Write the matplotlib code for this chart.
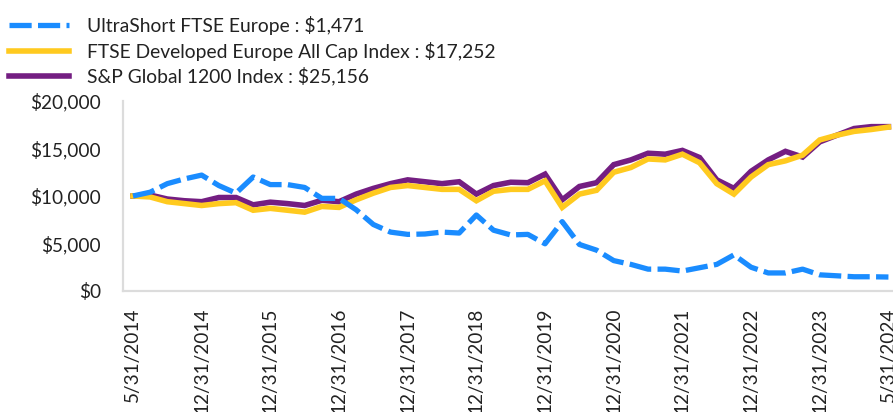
import matplotlib
matplotlib.use("Agg")
import matplotlib.pyplot as plt
from matplotlib.ticker import FuncFormatter
import numpy as np

tick_labels = ["5/31/2014", "12/31/2014", "12/31/2015", "12/31/2016", "12/31/2017",
               "12/31/2018", "12/31/2019", "12/31/2020", "12/31/2021", "12/31/2022",
               "12/31/2023", "5/31/2024"]

ultrashort = [10000, 10400, 11300, 11800, 12200, 11100, 10300, 12000, 11200, 11200,
              10900, 9750, 9750, 8550, 7000, 6200, 5960, 6000, 6200, 6100,
              8000, 6400, 5900, 5960, 4970, 7300, 4900, 4300, 3200, 2800,
              2300, 2300, 2100, 2450, 2800, 3800, 2500, 1900, 1900, 2300,
              1700, 1600, 1500, 1500, 1471]

ftse = [10000, 9900, 9400, 9200, 9000, 9200, 9300, 8500, 8700, 8500,
        8300, 8900, 8800, 9600, 10300, 10900, 11100, 10900, 10700, 10700,
        9500, 10500, 10700, 10700, 11600, 8800, 10200, 10600, 12500, 13000,
        13900, 13800, 14400, 13500, 11300, 10200, 12000, 13300, 13700, 14300,
        15900, 16400, 16800, 17000, 17252]

sp1200 = [10000, 10100, 9680, 9500, 9400, 9840, 9840, 9070, 9350, 9200,
          9000, 9550, 9400, 10200, 10800, 11300, 11700, 11500, 11300, 11500,
          10200, 11100, 11450, 11400, 12300, 9600, 11000, 11400, 13300, 13800,
          14500, 14400, 14800, 14050, 11700, 10800, 12600, 13800, 14700, 14100,
          15700, 16400, 17100, 17300, 17300]

legend_labels = ["UltraShort FTSE Europe : $1,471",
                 "FTSE Developed Europe All Cap Index : $17,252",
                 "S&P Global 1200 Index : $25,156"]

BLUE = "#1A8CFF"
YELLOW = "#FFCA1F"
PURPLE = "#741E82"

plt.rcParams['font.family'] = ['Lato', 'DejaVu Sans']

W, H = 893, 412
fig = plt.figure(figsize=(W / 100, H / 100), dpi=100)

x = np.arange(len(ultrashort))
n = len(x) - 1
step = n / (len(tick_labels) - 1)
xmin, xmax = -0.58, n + 0.58
px_per_unit = 17.17
ax_left = 123
ax_right = ax_left + (xmax - xmin) * px_per_unit
ax = fig.add_axes([ax_left / W, (H - 291) / H, (ax_right - ax_left) / W, 190 / H])

l3, = ax.plot(x, sp1200, color=PURPLE, lw=4.0, zorder=2, solid_joinstyle='miter')
l2, = ax.plot(x, ftse, color=YELLOW, lw=4.0, zorder=3, solid_joinstyle='miter')
l1, = ax.plot(x, ultrashort, color=BLUE, lw=3.8, zorder=4, dashes=(4.2, 1.2),
              dash_capstyle='butt')

ax.set_xlim(xmin, xmax)
ax.set_ylim(0, 20000)
ax.set_yticks([0, 5000, 10000, 15000, 20000])
ax.yaxis.set_major_formatter(FuncFormatter(lambda v, p: "${:,.0f}".format(v)))
ax.set_xticks([i * step for i in range(len(tick_labels))])
ax.set_xticklabels(tick_labels, rotation=90, va='top', ha='center')

for s in ['top', 'right']:
    ax.spines[s].set_visible(False)
for s in ['left', 'bottom']:
    ax.spines[s].set_color('#DCDCDC')
    ax.spines[s].set_linewidth(1.6)
ax.tick_params(axis='both', length=0, labelsize=13.7, colors='#222222')
ax.tick_params(axis='y', pad=16)
ax.tick_params(axis='x', pad=12)

fig.legend([l1, l2, l3], legend_labels, loc='upper left',
           bbox_to_anchor=(9 / W, 1 - 16 / H), frameon=False, fontsize=13.9,
           handlelength=3.1, handletextpad=0.95, labelspacing=0.34, borderpad=0,
           borderaxespad=0)
for t in fig.legends[0].get_texts():
    t.set_color('#222222')

fig.savefig("out.png", dpi=100)
